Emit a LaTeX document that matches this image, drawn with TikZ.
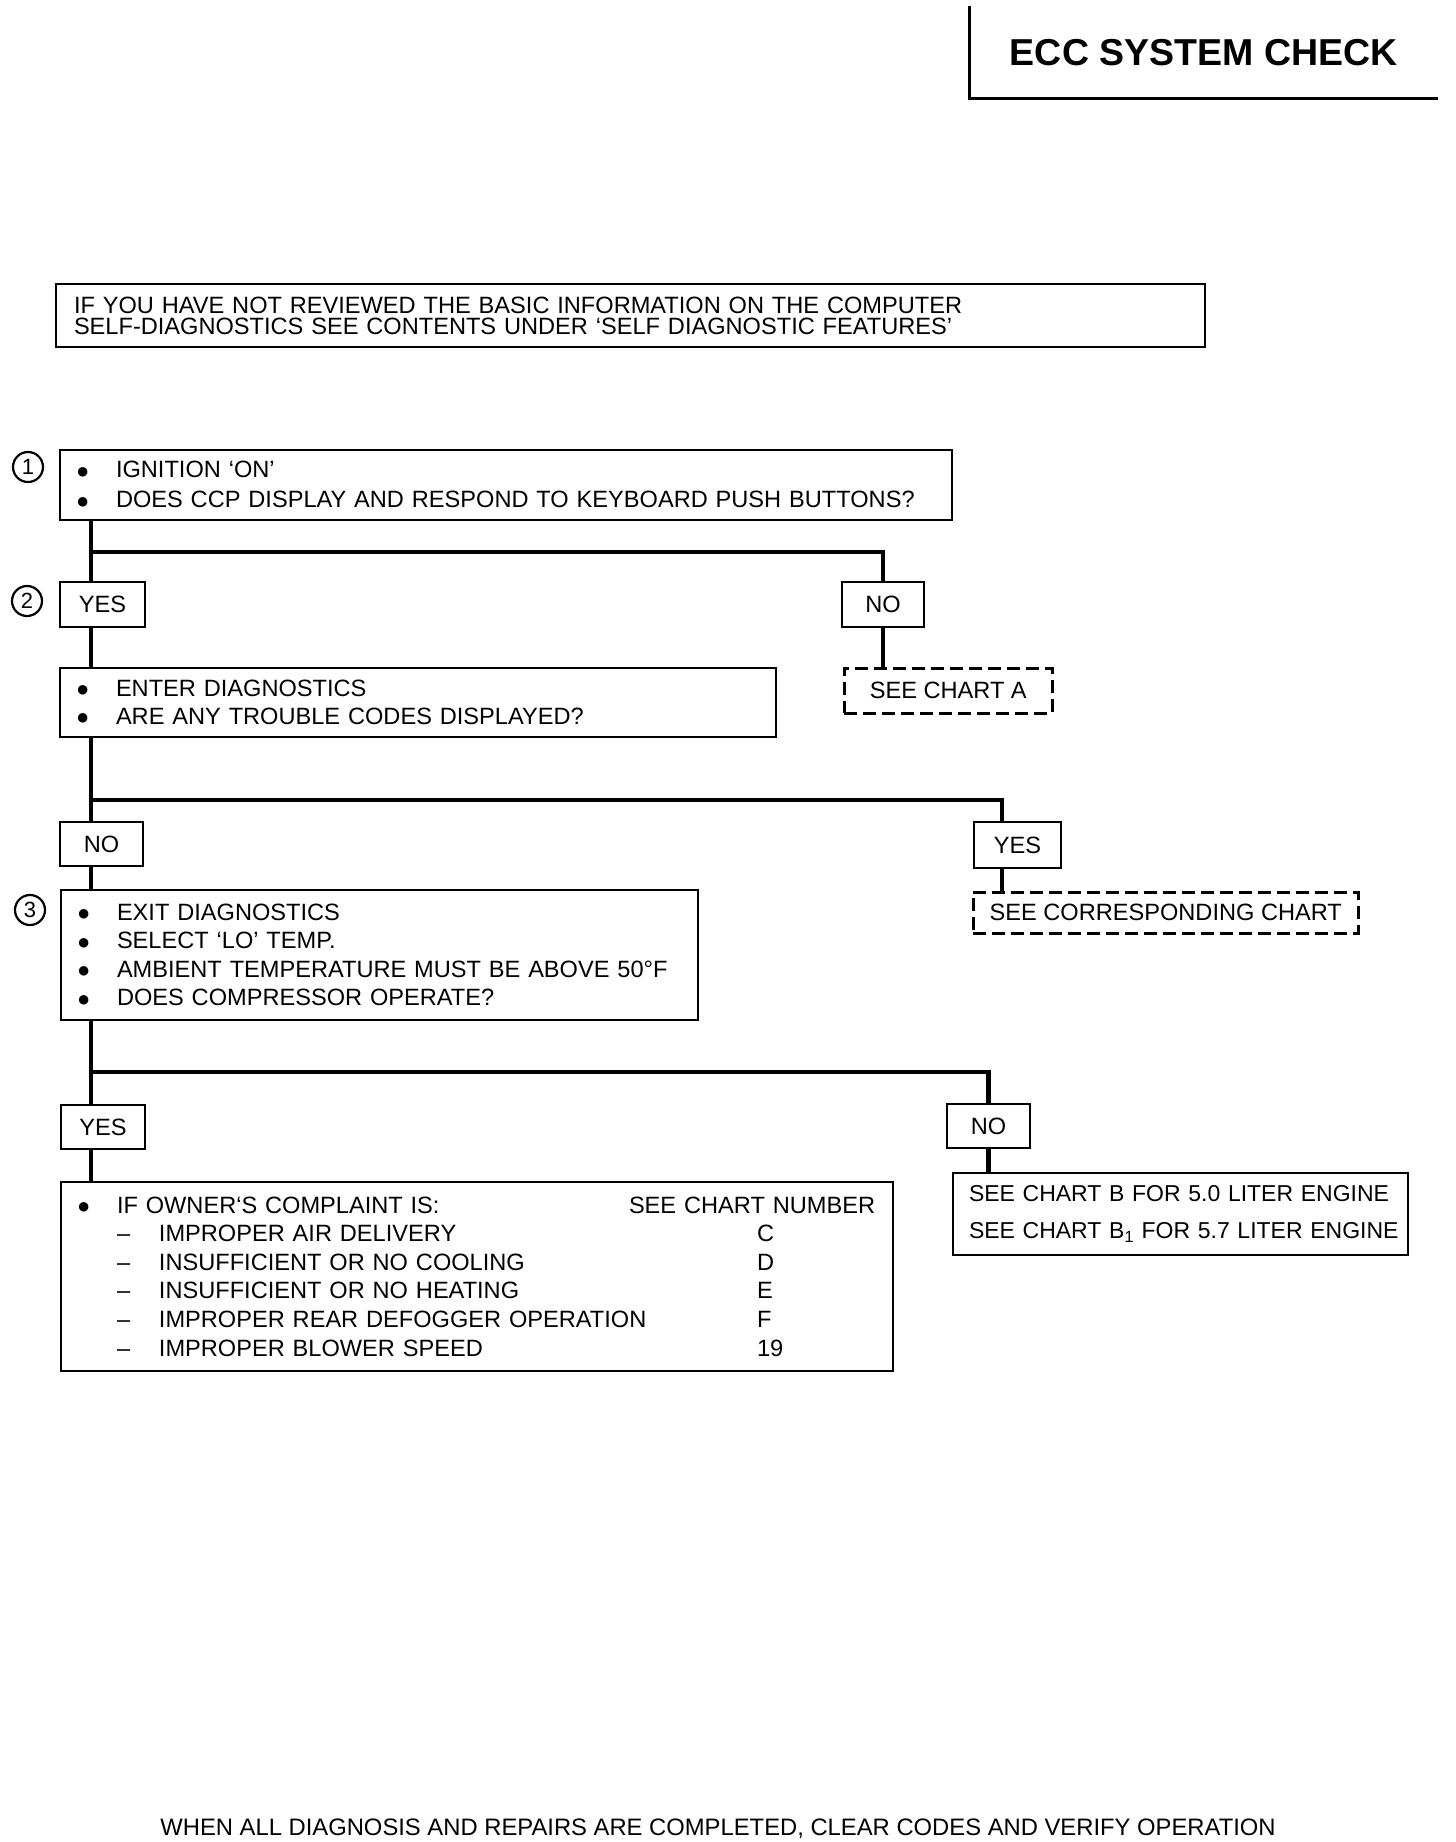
\documentclass[tikz,border=0pt]{standalone}
\usepackage{fontspec}
\setmainfont{Liberation Sans}
\usepackage{tikz}
\usetikzlibrary{calc}

\newcommand{\bigdot}{\raisebox{-0.5pt}{\fontsize{22}{22}\selectfont ●}}
\newcommand{\dotitem}{\hspace*{16pt}\makebox[40pt][l]{\bigdot}}
\newcommand{\dashitem}{\hspace*{56pt}\makebox[42pt][l]{--}}

\tikzset{
  box/.style={draw, line width=2pt, anchor=north west, align=left, inner sep=0pt},
  tag/.style={draw, line width=2pt, anchor=north west, inner sep=0pt, font=\fontsize{23.6}{24}\selectfont},
  seechart/.style={tag, line width=2.5pt, dash pattern=on 13pt off 6pt},
  link/.style={line width=4.5pt},
  numcircle/.style={circle, draw, line width=2.2pt, minimum size=30pt, inner sep=0pt, font=\fontsize{22}{22}\selectfont},
}

\begin{document}
\begin{tikzpicture}[x=1pt,y=-1pt]
\useasboundingbox (0,0) rectangle (1456,1842);

\node(title) at (969,6)[anchor=north west, minimum width=469pt, minimum height=92pt, inner sep=0pt, font=\fontsize{37.5}{37.5}\selectfont\bfseries] {ECC SYSTEM CHECK};
\draw[line width=3pt] (title.north west) |- (title.south east);

\node(intro) at (55,283)[box, text width=1149pt, minimum height=63pt, font=\fontsize{23.6}{21}\selectfont]
  {\hspace*{18pt}IF YOU HAVE NOT REVIEWED THE BASIC INFORMATION ON THE COMPUTER\\
   \hspace*{18pt}SELF-DIAGNOSTICS SEE CONTENTS UNDER ‘SELF DIAGNOSTIC FEATURES’};

\node(c1) at (28,467)[numcircle] {1};
\node(c2) at (27,601)[numcircle] {2};
\node(c3) at (30,910)[numcircle] {3};

\node(box1) at (59,449)[box, text width=892pt, minimum height=70pt, font=\fontsize{23.6}{30}\selectfont]
  {\dotitem IGNITION ‘ON’\\
   \dotitem DOES CCP DISPLAY AND RESPOND TO KEYBOARD PUSH BUTTONS?};
\node(yes1) at (59,581)[tag, minimum width=85pt, minimum height=45pt] {YES};
\node(no1) at (841,581)[tag, minimum width=82pt, minimum height=45pt] {NO};
\node(chartA) at (843,667)[seechart, minimum width=208pt, minimum height=45pt] {SEE CHART A};

\node(box2) at (59,667)[box, text width=716pt, minimum height=69pt, font=\fontsize{23.6}{28}\selectfont]
  {\dotitem ENTER DIAGNOSTICS\\
   \dotitem ARE ANY TROUBLE CODES DISPLAYED?};
\node(no2) at (59,821)[tag, minimum width=83pt, minimum height=44pt] {NO};
\node(yes2) at (973,821)[tag, minimum width=87pt, minimum height=46pt] {YES};
\node(chartX) at (972,891)[seechart, minimum width=385pt, minimum height=41pt] {SEE CORRESPONDING CHART};

\node(box3) at (60,889)[box, text width=637pt, minimum height=130pt, font=\fontsize{23.6}{28.5}\selectfont]
  {\dotitem EXIT DIAGNOSTICS\\
   \dotitem SELECT ‘LO’ TEMP.\\
   \dotitem AMBIENT TEMPERATURE MUST BE ABOVE 50°F\\
   \dotitem DOES COMPRESSOR OPERATE?};
\node(yes3) at (60,1104)[tag, minimum width=84pt, minimum height=44pt] {YES};
\node(no3) at (946,1103)[tag, minimum width=83pt, minimum height=44pt] {NO};

\node(box4) at (60,1181)[box, text width=832pt, minimum height=189pt, font=\fontsize{23.6}{28.6}\selectfont]
  {\dotitem\makebox[512pt][l]{IF OWNER‘S COMPLAINT IS:}SEE CHART NUMBER\\
   \dashitem\makebox[598pt][l]{IMPROPER AIR DELIVERY}C\\
   \dashitem\makebox[598pt][l]{INSUFFICIENT OR NO COOLING}D\\
   \dashitem\makebox[598pt][l]{INSUFFICIENT OR NO HEATING}E\\
   \dashitem\makebox[598pt][l]{IMPROPER REAR DEFOGGER OPERATION}F\\
   \dashitem\makebox[598pt][l]{IMPROPER BLOWER SPEED}19};
\node(box5) at (952,1172)[box, text width=455pt, minimum height=82pt, font=\fontsize{23}{37}\selectfont]
  {\hspace*{16pt}SEE CHART B FOR 5.0 LITER ENGINE\\
   \hspace*{16pt}SEE CHART B\textsubscript{1} FOR 5.7 LITER ENGINE};

\node(footer) at (718,1829)[font=\fontsize{23.8}{24}\selectfont]
  {WHEN ALL DIAGNOSIS AND REPAIRS ARE COMPLETED, CLEAR CODES AND VERIFY OPERATION};

\coordinate(fork1) at (91,552);
\coordinate(fork2) at (91,800);
\coordinate(fork2r) at (1002,800);
\coordinate(fork3) at (91,1072);

\path [link]
  (box1.south -| fork1)  edge  (yes1.north -| fork1)
  (yes1.south -| fork1)  edge  (box2.north -| fork1)
  (no1.south)            edge  (chartA.north -| no1.south)
  (box2.south -| fork2)  edge  (no2.north -| fork2)
  (no2.south -| fork2)   edge  (box3.north -| fork2)
  (yes2.south -| fork2r) edge  (chartX.north -| fork2r)
  (box3.south -| fork3)  edge  (yes3.north -| fork3)
  (yes3.south -| fork3)  edge  (box4.north -| fork3)
  (no3.south)            edge  (box5.north -| no3.south);

\draw[link] (fork1) -| (no1.north);
\draw[link] (fork2) -- (fork2r) -- (yes2.north -| fork2r);
\draw[link] (fork3) -| (no3.north);

\end{tikzpicture}
\end{document}
